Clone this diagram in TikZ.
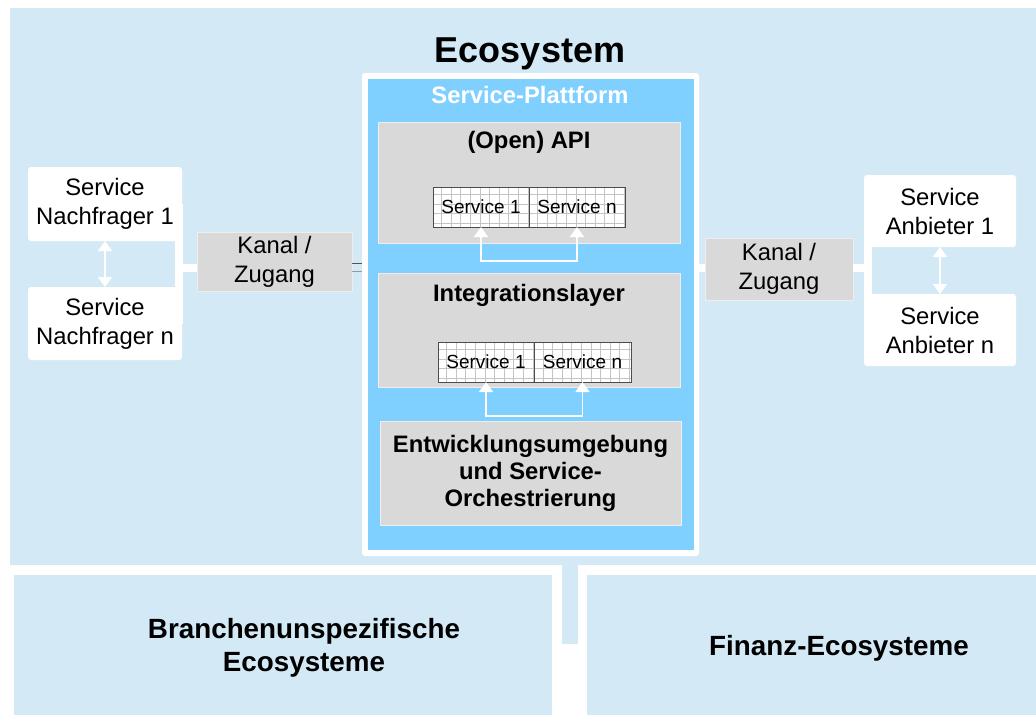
\documentclass[tikz,border=0pt]{standalone}
\usepackage{fontspec}
\setmainfont{Liberation Sans}
\usetikzlibrary{arrows.meta}
\definecolor{ecoblue}{RGB}{211,233,246}
\definecolor{platblue}{RGB}{128,208,255}
\definecolor{boxgray}{RGB}{217,217,217}
\definecolor{boxedge}{RGB}{238,238,238}
\definecolor{gridgray}{RGB}{196,196,196}
\newcommand\fntreg{\fontsize{23.8}{29}\selectfont}
\newcommand\fntbold{\fontsize{23.8}{27}\selectfont\bfseries}
\newcommand\fntsvc{\fontsize{19}{22}\selectfont}
\newcommand\fntbig{\fontsize{27.8}{33}\selectfont\bfseries}
\newcommand\fnttitle{\fontsize{36}{40}\selectfont\bfseries}
\begin{document}
\begin{tikzpicture}[x=1pt,y=-1pt,
  rect/.style={anchor=north west, inner sep=0pt, outer sep=0pt, draw=none},
  ecobox/.style={rect, fill=ecoblue},
  whitebox/.style={rect, fill=white, rounded corners=3pt, align=center, font=\fntreg},
  graybox/.style={rect, fill=boxgray, draw=boxedge, line width=1pt, align=center},
  svccell/.style={rect, fill=white, draw=black!70, line width=0.6pt, font=\fntsvc,
    path picture={\draw[gridgray, line width=0.6pt] (path picture bounding box.south west) grid[step=9.6pt] (path picture bounding box.north east);}},
  wbar/.style={white, line width=8pt},
  warrow/.style={white, line width=1.5pt, {Triangle[width=14pt,length=10pt]}-{Triangle[width=14pt,length=10pt]}},
  lbl/.style={anchor=base, inner sep=0pt},
]
\useasboundingbox (0,0) rectangle (1036,715);
\fill[white] (0,0) rectangle (1036,715);

% ecosystem areas
\node[ecobox, minimum width=1026, minimum height=557] (eco) at (10,8) {};
\node[ecobox, minimum width=538, minimum height=140] (bl) at (14,575) {};
\node[ecobox, minimum width=449, minimum height=140] (br) at (587,575) {};
\node[ecobox, minimum width=16, minimum height=79] (stem) at (562,565) {};

\node[lbl, font=\fnttitle] (title) at (530,62) {Ecosystem};
\node[anchor=center, inner sep=0pt, align=center, font=\fntbig] (bltext) at (304,648) {Branchenunspezifische\\Ecosysteme};
\node[anchor=center, inner sep=0pt, align=center, font=\fntbig] (brtext) at (839,648) {Finanz-Ecosysteme};

% platform
\node[rect, fill=white, rounded corners=3pt, minimum width=337, minimum height=483] (pf) at (362,73) {};
\node[rect, fill=platblue, minimum width=326, minimum height=471] (pfi) at (368,79) {};
\node[lbl, font=\fntbold, text=white] (pftitle) at (530,103) {Service-Plattform};

\node[graybox, minimum width=302, minimum height=121] (api) at (378,122) {};
\node[lbl, font=\fntbold] (apititle) at (529,148) {(Open) API};
\node[graybox, minimum width=302, minimum height=114] (intg) at (378,273) {};
\node[lbl, font=\fntbold] (intgtitle) at (529,301) {Integrationslayer};
\node[graybox, minimum width=301, minimum height=104, font=\fntbold] (entw) at (380,421) {Entwicklungsumgebung\\und Service-\\Orchestrierung};

\node[svccell, minimum width=96, minimum height=40] (a1) at (433,187) {Service 1};
\node[svccell, minimum width=96, minimum height=40] (a2) at (529,187) {Service n};
\node[svccell, minimum width=96, minimum height=40] (b1) at (438,342) {Service 1};
\node[svccell, minimum width=97, minimum height=40] (b2) at (534,342) {Service n};

\draw[warrow] (a1.south) -- ++(0,34) -| (a2.south);
\draw[warrow] (b1.south) -- ++(0,34) -| (b2.south);

% left side
\node[whitebox, minimum width=154, minimum height=74] (n1) at (28,167) {Service\\Nachfrager 1};
\node[whitebox, minimum width=154, minimum height=73] (n2) at (28,287) {Service\\Nachfrager n};
\draw[wbar] ([xshift=-3pt]n1.east) -- ([xshift=-3pt]n2.east);
\coordinate (lj) at (179,267.5);
\node[graybox, minimum width=155, minimum height=59, font=\fntreg] (k1) at (197,232) {Kanal /\\Zugang};
\draw[wbar] (lj) -- (lj -| k1.west);
\draw[warrow] (n1.south) -- (n2.north);
\draw[black!67, line width=0.9pt] ([yshift=-1.5pt]k1.east) -- ([yshift=-1.5pt]k1.east -| pf.west);
\draw[black!40, line width=0.9pt] ([yshift=-9.5pt]k1.east) -- ([yshift=-9.5pt]k1.east -| pf.west);

% right side
\node[whitebox, minimum width=152, minimum height=72] (an1) at (864,175) {Service\\Anbieter 1};
\node[whitebox, minimum width=152, minimum height=72] (an2) at (864,294) {Service\\Anbieter n};
\draw[wbar] ([xshift=4pt]an1.west) -- ([xshift=4pt]an2.west);
\coordinate (rj) at (699,267.5);
\node[graybox, minimum width=148, minimum height=62, font=\fntreg] (k2) at (705,238) {Kanal /\\Zugang};
\draw[wbar] (rj) -- (rj -| k2.west);
\draw[wbar] (k2.east |- rj) -- (rj -| an1.west) -- ++(8,0);
\draw[warrow] (an1.south) -- (an2.north);
\end{tikzpicture}
\end{document}
